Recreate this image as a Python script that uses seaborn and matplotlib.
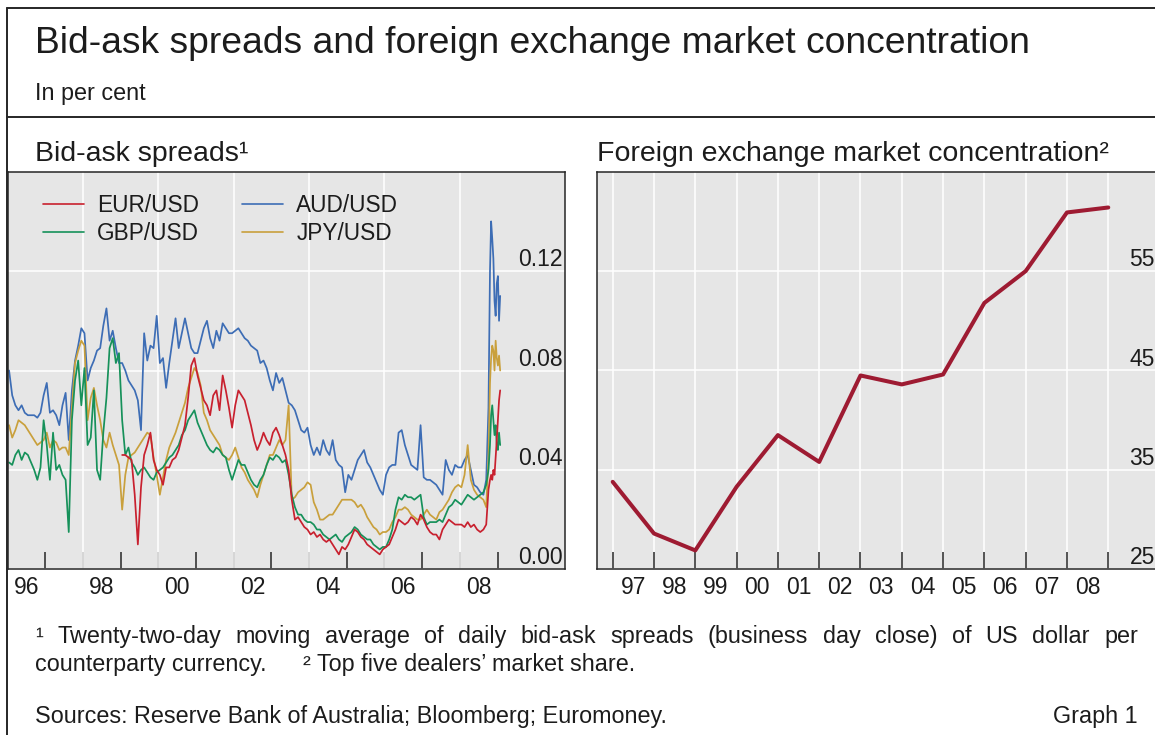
import numpy as np
import pandas as pd
import matplotlib
matplotlib.use("Agg")
import matplotlib.pyplot as plt
from matplotlib.lines import Line2D
import seaborn as sns

# ---------------- data ----------------
# monthly observations Jan-1996 .. Aug-2008 (month centres), then a finer tail in autumn 2008
month_index = np.arange(152)
tail_dates = [2008.70, 2008.76, 2008.80, 2008.83, 2008.86, 2008.89,
              2008.92, 2008.95, 2008.98, 2009.01, 2009.04, 2009.07]

aud_usd = [
    0.080, 0.070, 0.066, 0.064, 0.066, 0.063, 0.062, 0.062, 0.062, 0.061, 0.063, 0.070,
    0.075, 0.063, 0.064, 0.062, 0.058, 0.066, 0.071, 0.052, 0.072, 0.084, 0.090, 0.097,
    0.095, 0.076, 0.081, 0.084, 0.088, 0.089, 0.098, 0.105, 0.092, 0.096, 0.089, 0.083,
    0.083, 0.080, 0.076, 0.074, 0.072, 0.068, 0.056, 0.095, 0.084, 0.090, 0.089, 0.102,
    0.083, 0.085, 0.073, 0.083, 0.092, 0.101, 0.089, 0.095, 0.101, 0.095, 0.089, 0.087,
    0.087, 0.092, 0.097, 0.100, 0.093, 0.089, 0.096, 0.092, 0.099, 0.097, 0.095, 0.095,
    0.096, 0.097, 0.095, 0.093, 0.092, 0.090, 0.089, 0.088, 0.083, 0.084, 0.081, 0.076,
    0.072, 0.079, 0.075, 0.077, 0.072, 0.067, 0.066, 0.064, 0.060, 0.056, 0.055, 0.057,
    0.050, 0.046, 0.049, 0.046, 0.052, 0.048, 0.046, 0.052, 0.044, 0.042, 0.041, 0.031,
    0.038, 0.036, 0.040, 0.044, 0.046, 0.048, 0.043, 0.041, 0.038, 0.035, 0.032, 0.030,
    0.038, 0.041, 0.042, 0.042, 0.055, 0.056, 0.050, 0.046, 0.042, 0.041, 0.040, 0.058,
    0.037, 0.036, 0.036, 0.035, 0.034, 0.032, 0.030, 0.044, 0.040, 0.038, 0.042, 0.041,
    0.041, 0.044, 0.046, 0.040, 0.034, 0.033, 0.031, 0.030,
    0.036, 0.065, 0.120, 0.140, 0.133, 0.125, 0.108, 0.102, 0.115, 0.118, 0.100, 0.110,
]

eur_usd = [None] * 36 + [
    0.046, 0.046, 0.045, 0.044, 0.030, 0.010, 0.033, 0.046, 0.050, 0.055, 0.044, 0.040,
    0.038, 0.034, 0.041, 0.041, 0.044, 0.045, 0.048, 0.053, 0.058, 0.069, 0.082, 0.085,
    0.078, 0.073, 0.068, 0.066, 0.062, 0.070, 0.072, 0.064, 0.078, 0.072, 0.065, 0.057,
    0.066, 0.072, 0.070, 0.068, 0.063, 0.058, 0.052, 0.048, 0.051, 0.055, 0.052, 0.050,
    0.055, 0.057, 0.054, 0.050, 0.046, 0.040, 0.028, 0.020, 0.021, 0.019, 0.017, 0.016,
    0.014, 0.015, 0.013, 0.014, 0.012, 0.011, 0.012, 0.010, 0.008, 0.006, 0.009, 0.008,
    0.010, 0.013, 0.016, 0.015, 0.013, 0.012, 0.010, 0.009, 0.008, 0.007, 0.006, 0.008,
    0.009, 0.010, 0.013, 0.016, 0.020, 0.019, 0.018, 0.019, 0.021, 0.020, 0.018, 0.022,
    0.020, 0.017, 0.015, 0.014, 0.014, 0.012, 0.016, 0.018, 0.020, 0.019, 0.018, 0.018,
    0.018, 0.017, 0.019, 0.017, 0.018, 0.016, 0.015, 0.016,
    0.018, 0.032, 0.036, 0.038, 0.036, 0.040, 0.038, 0.045, 0.052, 0.060, 0.068, 0.072,
]

gbp_usd = [
    0.043, 0.042, 0.046, 0.048, 0.044, 0.047, 0.046, 0.043, 0.040, 0.036, 0.041, 0.060,
    0.050, 0.036, 0.055, 0.040, 0.042, 0.038, 0.036, 0.015, 0.060, 0.076, 0.084, 0.066,
    0.081, 0.050, 0.053, 0.072, 0.040, 0.036, 0.055, 0.069, 0.089, 0.093, 0.083, 0.087,
    0.060, 0.046, 0.049, 0.043, 0.041, 0.038, 0.040, 0.041, 0.039, 0.037, 0.036, 0.039,
    0.040, 0.041, 0.043, 0.045, 0.046, 0.048, 0.050, 0.054, 0.056, 0.060, 0.062, 0.064,
    0.059, 0.056, 0.053, 0.050, 0.048, 0.047, 0.049, 0.048, 0.046, 0.045, 0.040, 0.036,
    0.040, 0.044, 0.042, 0.042, 0.039, 0.036, 0.034, 0.033, 0.036, 0.038, 0.042, 0.045,
    0.044, 0.046, 0.045, 0.043, 0.044, 0.038, 0.030, 0.025, 0.022, 0.022, 0.020, 0.019,
    0.019, 0.018, 0.016, 0.016, 0.014, 0.013, 0.012, 0.013, 0.014, 0.012, 0.011, 0.013,
    0.014, 0.015, 0.017, 0.016, 0.014, 0.013, 0.012, 0.012, 0.010, 0.009, 0.008, 0.009,
    0.009, 0.012, 0.016, 0.024, 0.029, 0.028, 0.030, 0.029, 0.029, 0.028, 0.029, 0.030,
    0.021, 0.018, 0.019, 0.019, 0.019, 0.020, 0.019, 0.022, 0.025, 0.026, 0.028, 0.027,
    0.026, 0.028, 0.030, 0.029, 0.028, 0.029, 0.030, 0.031,
    0.034, 0.040, 0.050, 0.062, 0.066, 0.060, 0.054, 0.058, 0.050, 0.048, 0.055, 0.050,
]

jpy_usd = [
    0.058, 0.053, 0.056, 0.060, 0.059, 0.058, 0.056, 0.054, 0.052, 0.050, 0.051, 0.052,
    0.055, 0.049, 0.052, 0.051, 0.048, 0.049, 0.049, 0.046, 0.065, 0.083, 0.088, 0.092,
    0.090, 0.060, 0.069, 0.073, 0.066, 0.060, 0.052, 0.049, 0.055, 0.050, 0.046, 0.042,
    0.024, 0.038, 0.045, 0.046, 0.047, 0.049, 0.051, 0.053, 0.055, 0.054, 0.045, 0.038,
    0.030, 0.037, 0.044, 0.049, 0.052, 0.055, 0.059, 0.063, 0.067, 0.073, 0.077, 0.081,
    0.079, 0.074, 0.063, 0.060, 0.056, 0.054, 0.052, 0.050, 0.046, 0.045, 0.044, 0.046,
    0.049, 0.045, 0.041, 0.039, 0.036, 0.034, 0.032, 0.029, 0.034, 0.038, 0.042, 0.046,
    0.046, 0.049, 0.052, 0.050, 0.052, 0.066, 0.028, 0.029, 0.031, 0.032, 0.033, 0.035,
    0.034, 0.027, 0.024, 0.020, 0.020, 0.021, 0.022, 0.022, 0.024, 0.026, 0.028, 0.028,
    0.028, 0.028, 0.027, 0.025, 0.026, 0.024, 0.021, 0.019, 0.017, 0.016, 0.014, 0.015,
    0.015, 0.016, 0.019, 0.021, 0.024, 0.024, 0.025, 0.024, 0.022, 0.021, 0.020, 0.020,
    0.022, 0.024, 0.022, 0.021, 0.020, 0.023, 0.024, 0.026, 0.028, 0.031, 0.033, 0.034,
    0.033, 0.038, 0.050, 0.036, 0.032, 0.030, 0.029, 0.028,
    0.025, 0.045, 0.075, 0.085, 0.090, 0.088, 0.080, 0.092, 0.085, 0.082, 0.086, 0.080,
]

conc_years = list(range(1997, 2010))          # plotted at year boundaries
conc_share = [33.8, 28.6, 26.9, 33.3, 38.5, 35.8, 44.5, 43.6, 44.6, 51.8, 55.0, 60.9, 61.4]

left_year_labels = ["96", "98", "00", "02", "04", "06", "08"]
right_year_labels = ["97", "98", "99", "00", "01", "02", "03", "04", "05", "06", "07", "08"]
left_ytick_labels = ["0.00", "0.04", "0.08", "0.12"]
right_ytick_labels = ["25", "35", "45", "55"]

# ---------------- style ----------------
sns.set_style("white")
plt.rcParams['font.family'] = ['Liberation Sans', 'DejaVu Sans']
TXT = '#1c1c1c'
BG = '#e6e6e6'
SPINE = '#262626'
FOOT = 16.8

W, H = 1155, 735
fig = plt.figure(figsize=(W / 100, H / 100), dpi=100, facecolor='white')

def fx(px):
    return px / W

def fy(py):
    return 1 - py / H

ax_top, ax_bot = 171.7, 569.3
axL = fig.add_axes([fx(7.5), fy(ax_bot), fx(565) - fx(7.5), fy(ax_top) - fy(ax_bot)])
axR = fig.add_axes([fx(597.3), fy(ax_bot), fx(1157) - fx(597.3), fy(ax_top) - fy(ax_bot)])

t_all = np.concatenate([1996 + (month_index + 0.5) / 12, np.array(tail_dates)])
series = {
    'EUR/USD': (np.array(eur_usd, dtype=float), '#c8202e'),
    'GBP/USD': (np.array(gbp_usd, dtype=float), '#16915a'),
    'AUD/USD': (np.array(aud_usd, dtype=float), '#3d6db5'),
    'JPY/USD': (np.array(jpy_usd, dtype=float), '#c9a03c'),
}
draw_order = ['AUD/USD', 'JPY/USD', 'GBP/USD', 'EUR/USD']
legend_order = ['EUR/USD', 'GBP/USD', 'AUD/USD', 'JPY/USD']

for ax in (axL, axR):
    ax.set_facecolor(BG)
    ax.set_axisbelow(True)
    for sp in ax.spines.values():
        sp.set_color(SPINE)
        sp.set_linewidth(1.1)

# ---- left panel ----
for name in draw_order:
    vals, col = series[name]
    sns.lineplot(x=t_all, y=vals, ax=axL, color=col, lw=1.25, legend=False)

axL.set_xlim(1996.0, 2010.79)
axL.set_ylim(0, 0.16)
axL.set_xticks(np.arange(1997, 2010), labels=[''] * 13)
axL.set_xticks(np.arange(1996, 2009, 2) + 0.5, labels=left_year_labels, minor=True)
axL.set_yticks([0, 0.04, 0.08, 0.12], labels=left_ytick_labels)
axL.grid(axis='y', which='major', color='white', lw=1.1)
for yr in range(1998, 2010, 2):
    axL.axvline(yr, color='white', lw=1.1, zorder=0.6)

handles = [Line2D([], [], color=series[n][1], lw=1.2) for n in legend_order]
axL.legend(handles=handles, labels=legend_order, ncol=2, loc='upper left',
           bbox_to_anchor=(0.0637, 0.944), frameon=False, fontsize=16.3,
           handlelength=1.81, handletextpad=0.58, columnspacing=1.9,
           labelspacing=0.22, borderpad=0, borderaxespad=0, labelcolor=TXT)

# ---- right panel ----
sns.lineplot(x=conc_years, y=conc_share, ax=axR, color='#9e1b32', lw=2.9, legend=False)
axR.set_xlim(1996.627, 2010.18)
axR.set_ylim(25, 65)
axR.set_xticks(np.arange(1997, 2010), labels=[''] * 13)
axR.set_xticks(np.arange(1997, 2009) + 0.5, labels=right_year_labels, minor=True)
axR.set_yticks([25, 35, 45, 55], labels=right_ytick_labels)
axR.grid(axis='both', which='major', color='white', lw=1.1)

for ax in (axL, axR):
    ax.set_xlabel('')
    ax.set_ylabel('')
    ax.tick_params(axis='x', which='major', direction='in', length=12.6, width=1.1,
                   color=SPINE, bottom=True, top=False)
    ax.tick_params(axis='x', which='minor', length=0, pad=4.6, labelsize=16.5,
                   labelcolor=TXT, bottom=True)
    ax.tick_params(axis='y', which='major', left=False, right=False, labelleft=False,
                   labelright=True, pad=-5, labelsize=16.5, labelcolor=TXT)
    for lbl in ax.get_yticklabels():
        lbl.set_horizontalalignment('right')
        lbl.set_verticalalignment('bottom')

# ---------------- texts ----------------
fig.text(fx(35), fy(53), 'Bid-ask spreads and foreign exchange market concentration',
         fontsize=26.8, color=TXT, va='baseline', ha='left')
fig.text(fx(35), fy(100), 'In per cent', fontsize=16.8, color=TXT, va='baseline', ha='left')
fig.text(fx(35), fy(161), 'Bid-ask spreads¹', fontsize=20.5, color=TXT, va='baseline', ha='left')
fig.text(fx(597), fy(161), 'Foreign exchange market concentration²', fontsize=20.5,
         color=TXT, va='baseline', ha='left')

# justified first footnote line
words = ['¹', 'Twenty-two-day', 'moving', 'average', 'of', 'daily', 'bid-ask', 'spreads',
         '(business', 'day', 'close)', 'of', 'US', 'dollar', 'per']
renderer = fig.canvas.get_renderer()
word_texts = [fig.text(0, fy(643), w, fontsize=FOOT, color=TXT, va='baseline', ha='left')
              for w in words]
widths = [t.get_window_extent(renderer).width for t in word_texts]
x0, x1 = 35.0, 1138.0
gap = (x1 - x0 - sum(widths)) / (len(words) - 1)
xpos = x0
for t, wdt in zip(word_texts, widths):
    t.set_x(fx(xpos))
    xpos += wdt + gap

fig.text(fx(35), fy(671), 'counterparty currency.', fontsize=FOOT, color=TXT,
         va='baseline', ha='left')
fig.text(fx(303), fy(671), '² Top five dealers’ market share.', fontsize=FOOT, color=TXT,
         va='baseline', ha='left')
fig.text(fx(35), fy(723), 'Sources: Reserve Bank of Australia; Bloomberg; Euromoney.',
         fontsize=FOOT, color=TXT, va='baseline', ha='left')
fig.text(fx(1138), fy(723), 'Graph 1', fontsize=FOOT, color=TXT, va='baseline', ha='right')

# ---------------- frame lines ----------------
for xs, ys in [([fx(7.3), fx(7.3)], [fy(8.3), 0.0]),
               ([fx(7.3), 1.0], [fy(8.3), fy(8.3)]),
               ([fx(7.3), 1.0], [fy(117), fy(117)])]:
    fig.add_artist(Line2D(xs, ys, color=SPINE, lw=1.4, transform=fig.transFigure))

fig.savefig('out.png', dpi=100, facecolor='white')
